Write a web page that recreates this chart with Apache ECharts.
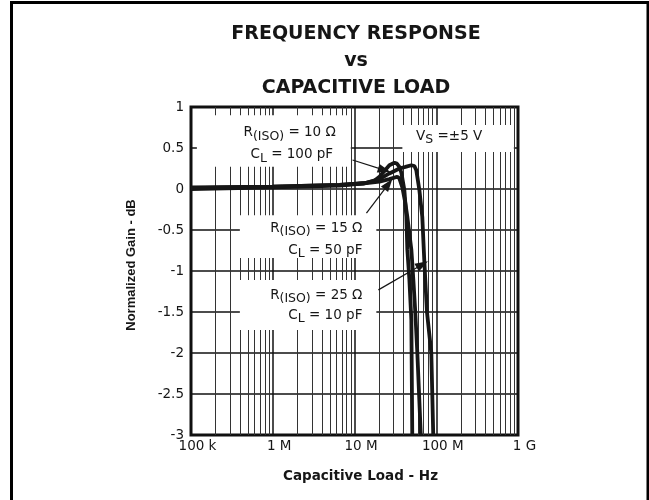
<!DOCTYPE html>
<html>
<head>
<meta charset="utf-8">
<script src="https://cdn.jsdelivr.net/npm/echarts@6/dist/echarts.min.js"></script>
<style>
  html, body { margin: 0; padding: 0; background: #fff; }
  #chart { width: 649px; height: 500px; }
</style>
</head>
<body>
<div id="chart"></div>
<script>
// Frequency points (Hz) and normalized gain (dB), one pair of arrays per load condition
const freqIso10 = [1e5, 1e6, 6.56e6, 1.32e7, 1.75e7, 2.02e7, 2.32e7, 2.67e7, 3.08e7, 3.3e7, 3.54e7, 3.74e7, 4.07e7, 4.31e7, 4.43e7, 4.69e7, 4.96e7, 5.09e7];
const gainIso10 = [0.02, 0.03, 0.05, 0.07, 0.1, 0.15, 0.22, 0.29, 0.32, 0.31, 0.27, 0.2, -0.01, -0.34, -0.74, -1.1, -1.6, -3];

const freqIso15 = [1e5, 1e6, 6.56e6, 1.32e7, 2.02e7, 2.67e7, 3.33e7, 3.54e7, 3.85e7, 4.15e7, 4.43e7, 4.96e7, 5.24e7, 5.54e7, 5.87e7, 6.47e7];
const gainIso15 = [0.0, 0.02, 0.04, 0.07, 0.09, 0.12, 0.15, 0.13, 0.02, -0.15, -0.34, -0.74, -1.1, -1.5, -2.0, -3];

const freqIso25 = [1e5, 1e6, 6.56e6, 1.32e7, 2.02e7, 2.67e7, 3.08e7, 3.54e7, 4.2e7, 4.96e7, 5.4e7, 5.7e7, 6.21e7, 6.75e7, 7.14e7, 7.7e7, 8.7e7, 9.19e7];
const gainIso25 = [0.01, 0.03, 0.05, 0.07, 0.12, 0.19, 0.22, 0.25, 0.27, 0.29, 0.28, 0.23, -0.01, -0.34, -0.87, -1.5, -2.0, -3];

// Decade tick labels
const tickValues = [1e5, 1e6, 1e7, 1e8, 1e9];
const tickText = ['100 k', '1 M', '10 M', '100 M', '1 G'];

const FONT = 'DejaVu Sans';
const INK = '#161616';

// Minor grid at 2..9 within each decade
const minorFreqs = [];
for (let k = 5; k < 9; k++) {
  for (let d = 2; d <= 9; d++) minorFreqs.push(d * Math.pow(10, k));
}

const pairs = (fs, gs) => fs.map((f, i) => [f, gs[i]]);

const sub = { fontFamily: FONT, fontSize: 12.5, color: INK, padding: [7, 0, 0, 0], verticalAlign: 'bottom' };
const main = { fontFamily: FONT, fontSize: 13.5, color: INK };

function note(coord, text, pos) {
  return {
    coord: coord,
    symbol: 'circle',
    symbolSize: 0,
    label: {
      show: true,
      position: pos,
      distance: 0,
      formatter: text,
      rich: { s: sub, m: main },
      fontFamily: FONT,
      fontSize: 13.5,
      color: INK
    }
  };
}

const curveStyle = { color: INK, width: 3.8 };

const option = {
  animation: false,
  backgroundColor: '#fff',
  grid: {
    left: 191, right: 131, top: 107, bottom: 65,
    show: true, borderColor: '#111', borderWidth: 3, backgroundColor: 'transparent'
  },
  xAxis: {
    type: 'log',
    logBase: 10,
    min: 1e5,
    max: 1e9,
    axisLine: { show: false },
    axisTick: { show: false },
    splitLine: { show: true, lineStyle: { color: '#111', width: 1.5 } },
    axisLabel: {
      margin: 4,
      fontFamily: FONT,
      fontSize: 13.5,
      color: INK,
      rich: { t: { fontFamily: FONT, fontSize: 13.5, color: INK, padding: [0, 0, 0, 13] } },
      formatter: function (v) {
        const i = tickValues.findIndex(t => Math.abs(Math.log10(t) - Math.log10(v)) < 1e-6);
        return i >= 0 ? '{t|' + tickText[i] + '}' : '';
      }
    },
    name: 'Capacitive Load - Hz',
    nameLocation: 'middle',
    nameGap: 34,
    nameTextStyle: { fontFamily: FONT, fontWeight: 'bold', fontSize: 13.5, color: INK, padding: [0, 0, 0, 12] }
  },
  yAxis: {
    type: 'value',
    min: -3,
    max: 1,
    interval: 0.5,
    axisLine: { show: false },
    axisTick: { show: false },
    splitLine: { show: true, lineStyle: { color: '#111', width: 1.5 } },
    axisLabel: { margin: 7, fontFamily: FONT, fontSize: 13.5, color: INK },
    name: 'Normalized Gain - dB',
    nameLocation: 'middle',
    nameRotate: 90,
    nameGap: 53,
    nameTextStyle: { fontFamily: 'Liberation Sans', fontWeight: 'bold', fontSize: 13, color: INK, padding: [0, 0, 0, 12] }
  },
  graphic: [
    { type: 'rect', silent: true, shape: { x: 11.5, y: 2.5, width: 636.5, height: 520 },
      style: { fill: 'none', stroke: '#000', lineWidth: 3 } },
    { type: 'text', silent: true, x: 356, y: 34,
      style: { text: 'FREQUENCY RESPONSE', textAlign: 'center', textVerticalAlign: 'middle',
               fontFamily: FONT, fontWeight: 'bold', fontSize: 19, fill: INK } },
    { type: 'text', silent: true, x: 356, y: 61,
      style: { text: 'vs', textAlign: 'center', textVerticalAlign: 'middle',
               fontFamily: FONT, fontWeight: 'bold', fontSize: 19, fill: INK } },
    { type: 'text', silent: true, x: 356, y: 88,
      style: { text: 'CAPACITIVE LOAD', textAlign: 'center', textVerticalAlign: 'middle',
               fontFamily: FONT, fontWeight: 'bold', fontSize: 19, fill: INK } }
  ],
  series: [
    {
      // minor grid lines
      type: 'line', data: [], silent: true,
      markLine: {
        silent: true, z: 0, symbol: 'none', animation: false,
        label: { show: false },
        lineStyle: { color: '#333', width: 1, type: 'solid' },
        emphasis: { disabled: true },
        data: minorFreqs.map(f => ({ xAxis: f }))
      }
    },
    {
      // white panels behind the annotation text
      type: 'line', data: [], silent: true,
      markArea: {
        silent: true, z: 1,
        itemStyle: { color: '#fff' },
        emphasis: { disabled: true },
        data: [
          [{ coord: [1.18e5, 0.90] }, { coord: [9.0e6, 0.27] }],
          [{ coord: [3.85e7, 0.78] }, { coord: [8.9e8, 0.45] }],
          [{ coord: [3.96e5, -0.32] }, { coord: [1.85e7, -0.84] }],
          [{ coord: [3.96e5, -1.11] }, { coord: [1.85e7, -1.72] }]
        ]
      }
    },
    { name: 'R(ISO) = 10 Ω, CL = 100 pF', type: 'line', z: 3, showSymbol: false, lineStyle: curveStyle, data: pairs(freqIso10, gainIso10) },
    { name: 'R(ISO) = 15 Ω, CL = 50 pF', type: 'line', z: 3, showSymbol: false, lineStyle: curveStyle, data: pairs(freqIso15, gainIso15) },
    { name: 'R(ISO) = 25 Ω, CL = 10 pF', type: 'line', z: 3, showSymbol: false, lineStyle: curveStyle, data: pairs(freqIso25, gainIso25) },
    {
      // annotation text and leader arrows
      type: 'line', data: [], silent: true,
      markLine: {
        silent: true, z: 6, animation: false,
        symbol: ['none', 'triangle'],
        symbolSize: [9, 13],
        label: { show: false },
        lineStyle: { color: INK, width: 1.2, type: 'solid' },
        emphasis: { disabled: true },
        data: [
          [{ coord: [9.46e6, 0.354] }, { coord: [2.32e7, 0.23] }],
          [{ coord: [1.40e7, -0.293] }, { coord: [2.6e7, 0.06] }],
          [{ coord: [1.96e7, -1.23] }, { coord: [6.75e7, -0.92] }]
        ]
      },
      markPoint: {
        silent: true, z: 6, animation: false,
        data: [
          note([1.61e6, 0.683], '{m|R}{s|(ISO)}{m| = 10 Ω}', 'inside'),
          note([1.71e6, 0.415], '{m|C}{s|L}{m| = 100 pF}', 'inside'),
          note([1.44e8, 0.646], '{m|V}{s|S}{m| =±5 V}', 'inside'),
          note([1.25e7, -0.476], '{m|R}{s|(ISO)}{m| = 15 Ω}', 'left'),
          note([1.25e7, -0.744], '{m|C}{s|L}{m| = 50 pF}', 'left'),
          note([1.25e7, -1.293], '{m|R}{s|(ISO)}{m| = 25 Ω}', 'left'),
          note([1.25e7, -1.537], '{m|C}{s|L}{m| = 10 pF}', 'left')
        ]
      }
    }
  ]
};

const chart = echarts.init(document.getElementById('chart'), null, { renderer: 'canvas' });
chart.setOption(option);
</script>
</body>
</html>
